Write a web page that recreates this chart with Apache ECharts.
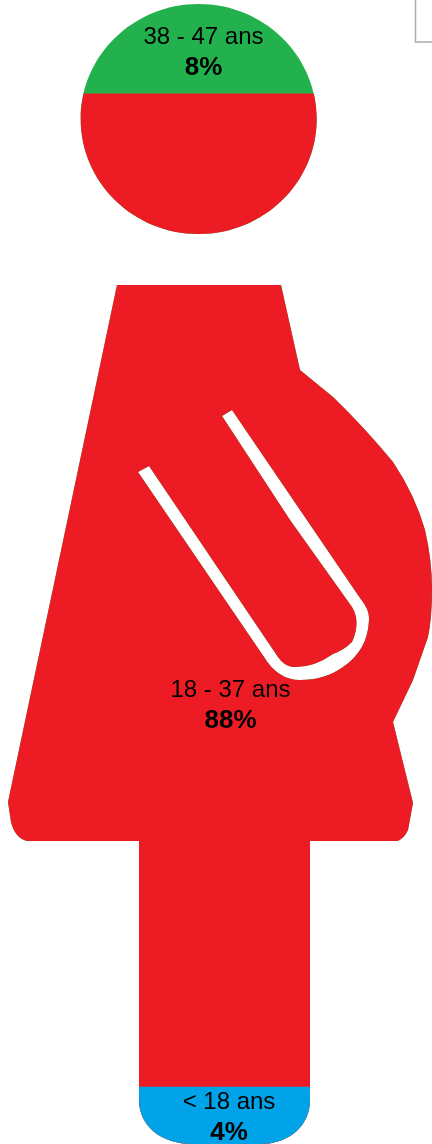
<!DOCTYPE html>
<html>
<head>
<meta charset="utf-8">
<style>html,body{margin:0;padding:0;background:#fff}#c{width:432px;height:1144px}</style>
<script src="https://cdn.jsdelivr.net/npm/echarts@6/dist/echarts.min.js"></script>
</head>
<body>
<div id="c"></div>
<script>
const categories = ['38 - 47 ans', '18 - 37 ans', '< 18 ans'];
const shareLabels = ['8%', '88%', '4%'];
// Filled height of each band (% of figure height, top to bottom)
const filledHeights = [7.85, 87.12, 5.03];
const colors = ['#22B14C', '#ED1C24', '#00A2E8'];
const labelCentres = [[203.5, 37, 68], [230.5, 690, 721], [229, 1102, 1133]];

const head = 'M198.7 4 C263.9 4 316.7 55.5 316.7 119 C316.7 182.5 263.9 234 198.7 234 C133.5 234 80.7 182.5 80.7 119 C80.7 55.5 133.5 4 198.7 4 Z ';
const body = 'M117 285 L281 285 L300 370 L333 397 Q365 428 393 462 Q415 495 425 530 Q432 560 432 590 Q432 618 428 637 L413 680 L393 722 L413 803 L408 830 Q404 839 397 841 L310 841 L310 1100 C310 1125 290 1144 260 1144 L193 1144 C160 1144 139 1125 139 1100 L139 841 L27 841 Q15 838 11 822 L8 802 Z ';
const arm = 'M138 472 L264 657 Q278 680 300 680 Q325 680 343 667 Q368 650 369 620 Q370 610 360 598 L232 410 L222 416 L290 520 L352 607 Q361 622 352 642 Q344 650 333 654 Q313 668 293 667 Q284 666 278 657 L149 466 Z';
const silhouette = 'path://' + head + body + arm;

// Cumulative top of each band measured from the feet
const tops = filledHeights.map((_, i) => filledHeights.slice(i).reduce((a, b) => a + b, 0));

const chart = echarts.init(document.getElementById('c'), null, {renderer: 'canvas'});
chart.setOption({
  backgroundColor: '#fff',
  animation: false,
  grid: {left: 8, top: 4, width: 424, height: 1140, containLabel: false},
  xAxis: {type: 'category', data: ['Femmes'], show: false},
  yAxis: {type: 'value', min: 0, max: 100, show: false},
  series: categories.map((name, i) => ({
    type: 'pictorialBar',
    name,
    data: [tops[i]],
    symbol: silhouette,
    symbolClip: true,
    symbolSize: ['100%', '100%'],
    symbolPosition: 'start',
    symbolBoundingData: 100,
    barWidth: '100%',
    barGap: '-100%',
    z: 2 + i,
    itemStyle: {color: colors[i]},
    silent: true
  })),
  graphic: [
    {type: 'polyline', z: 20, shape: {points: [[415.5, 0], [415.5, 42], [432, 42]]},
     style: {stroke: '#ababab', lineWidth: 1.5, fill: null}},
    ...categories.flatMap((name, i) => [
      {type: 'text', z: 20, x: labelCentres[i][0], y: labelCentres[i][1],
       style: {text: name, fill: '#000', font: '24px "Liberation Sans", Arial, sans-serif', textAlign: 'center', textVerticalAlign: 'middle'}},
      {type: 'text', z: 20, x: labelCentres[i][0], y: labelCentres[i][2],
       style: {text: shareLabels[i], fill: '#000', font: 'bold 26px "Liberation Sans", Arial, sans-serif', textAlign: 'center', textVerticalAlign: 'middle'}}
    ])
  ]
});
</script>
</body>
</html>
